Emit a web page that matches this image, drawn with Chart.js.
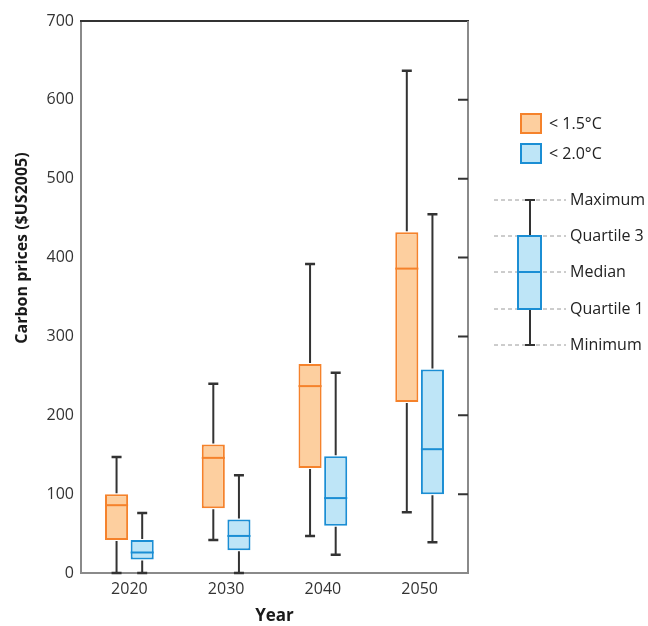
<!DOCTYPE html>
<html>
<head>
<meta charset="utf-8">
<script src="https://cdn.jsdelivr.net/npm/chart.js@4.4.1/dist/chart.umd.min.js"></script>
<style>
  html, body { margin: 0; padding: 0; background: #fff; }
  #wrap { width: 648px; height: 626px; }
</style>
</head>
<body>
<div id="wrap"><canvas id="chart"></canvas></div>
<script>
// years on the x axis
const years = ['2020', '2030', '2040', '2050'];

// < 1.5°C scenarios
const min15 = [0, 42, 47, 77];
const q1_15 = [42, 82, 133, 217];
const med15 = [86, 146, 237, 386];
const q3_15 = [100, 163, 265, 432];
const max15 = [147, 240, 392, 637];

// < 2.0°C scenarios
const min20 = [0, 0, 23, 39];
const q1_20 = [17, 29, 60, 100];
const med20 = [26, 47, 95, 157];
const q3_20 = [42, 68, 148, 258];
const max20 = [76, 124, 254, 455];

const yTicks = [0, 100, 200, 300, 400, 500, 600, 700];

const FONT = "'Open Sans', 'DejaVu Sans', sans-serif";
const ORANGE = '#f5822b', ORANGE_FILL = '#fdcf9f';
const BLUE = '#1b8ed4', BLUE_FILL = '#bee5f7';
const WHISKER = '#333333';

const stats = [
  { min: min15, med: med15, max: max15, color: ORANGE },
  { min: min20, med: med20, max: max20, color: BLUE }
];

// whiskers, caps and medians, placed with the chart scales
const boxPlugin = {
  id: 'boxParts',
  afterDatasetsDraw(chart) {
    const ctx = chart.ctx;
    const y = chart.scales.y;
    ctx.save();
    stats.forEach((s, i) => {
      const meta = chart.getDatasetMeta(i);
      const ds = chart.data.datasets[i];
      meta.data.forEach((bar, j) => {
        const x = bar.x;
        const w = bar.width;
        const [lo, hi] = ds.data[j];
        ctx.strokeStyle = WHISKER;
        ctx.lineWidth = 2;
        ctx.beginPath();
        ctx.moveTo(x, y.getPixelForValue(hi) - 1);
        ctx.lineTo(x, y.getPixelForValue(s.max[j]));
        ctx.moveTo(x, y.getPixelForValue(lo) + 1);
        ctx.lineTo(x, y.getPixelForValue(s.min[j]));
        ctx.stroke();
        // caps
        ctx.lineWidth = 2.5;
        ctx.beginPath();
        ctx.moveTo(x - 5, y.getPixelForValue(s.max[j]));
        ctx.lineTo(x + 5, y.getPixelForValue(s.max[j]));
        ctx.moveTo(x - 5, y.getPixelForValue(s.min[j]));
        ctx.lineTo(x + 5, y.getPixelForValue(s.min[j]));
        ctx.stroke();
        // median
        ctx.strokeStyle = s.color;
        ctx.lineWidth = 2;
        ctx.beginPath();
        ctx.moveTo(x - w / 2, y.getPixelForValue(s.med[j]));
        ctx.lineTo(x + w / 2, y.getPixelForValue(s.med[j]));
        ctx.stroke();
      });
    });
    ctx.restore();
  }
};

// frame, inner right ticks, y title, legend and the box key
const framePlugin = {
  id: 'frame',
  afterDraw(chart) {
    const ctx = chart.ctx;
    const a = chart.chartArea;
    const y = chart.scales.y;
    ctx.save();
    ctx.strokeStyle = '#333';
    ctx.lineWidth = 2;
    ctx.beginPath();
    ctx.moveTo(a.left - 1, a.top);
    ctx.lineTo(a.right + 1, a.top);
    ctx.stroke();
    ctx.strokeStyle = '#8a8a8a';
    ctx.beginPath();
    ctx.moveTo(a.right, a.top);
    ctx.lineTo(a.right, a.bottom);
    ctx.stroke();
    ctx.strokeStyle = '#333';
    ctx.beginPath();
    yTicks.slice(1, -1).forEach(v => {
      const py = y.getPixelForValue(v);
      ctx.moveTo(a.right - 10, py);
      ctx.lineTo(a.right, py);
    });
    ctx.stroke();

    // y axis title
    ctx.fillStyle = '#1a1a1a';
    ctx.font = 'bold 16px ' + FONT;
    ctx.textAlign = 'center';
    ctx.textBaseline = 'middle';
    ctx.translate(22, 248);
    ctx.rotate(-Math.PI / 2);
    ctx.fillText('Carbon prices ($US2005)', 0, 0);
    ctx.setTransform(1, 0, 0, 1, 0, 0);

    // legend
    const legend = [
      { label: '< 1.5°C', stroke: ORANGE, fill: ORANGE_FILL, y: 114 },
      { label: '< 2.0°C', stroke: BLUE, fill: BLUE_FILL, y: 144 }
    ];
    ctx.font = '16px ' + FONT;
    ctx.textAlign = 'left';
    legend.forEach(l => {
      ctx.fillStyle = l.fill;
      ctx.fillRect(521, l.y, 20, 19);
      ctx.strokeStyle = l.stroke;
      ctx.lineWidth = 2;
      ctx.strokeRect(521, l.y, 20, 19);
      ctx.fillStyle = '#222';
      ctx.fillText(l.label, 549, l.y + 10);
    });

    // box key
    const keyY = [200, 236, 272, 309, 345];
    const keyLabels = ['Maximum', 'Quartile 3', 'Median', 'Quartile 1', 'Minimum'];
    ctx.strokeStyle = '#9a9a9a';
    ctx.lineWidth = 1;
    ctx.setLineDash([4, 3]);
    ctx.beginPath();
    keyY.forEach(ky => {
      ctx.moveTo(494, ky);
      ctx.lineTo(566, ky);
    });
    ctx.stroke();
    ctx.setLineDash([]);
    ctx.strokeStyle = WHISKER;
    ctx.lineWidth = 2;
    ctx.beginPath();
    ctx.moveTo(530, keyY[0]); ctx.lineTo(530, keyY[1]);
    ctx.moveTo(530, keyY[3]); ctx.lineTo(530, keyY[4]);
    ctx.moveTo(525, keyY[0]); ctx.lineTo(535, keyY[0]);
    ctx.moveTo(525, keyY[4]); ctx.lineTo(535, keyY[4]);
    ctx.stroke();
    ctx.fillStyle = BLUE_FILL;
    ctx.fillRect(518, keyY[1], 23, keyY[3] - keyY[1]);
    ctx.strokeStyle = BLUE;
    ctx.strokeRect(518, keyY[1], 23, keyY[3] - keyY[1]);
    ctx.beginPath();
    ctx.moveTo(518, keyY[2]); ctx.lineTo(541, keyY[2]);
    ctx.stroke();
    ctx.fillStyle = '#222';
    keyLabels.forEach((t, k) => ctx.fillText(t, 570, keyY[k]));
    ctx.restore();
  }
};

new Chart(document.getElementById('chart'), {
  type: 'bar',
  data: {
    labels: years,
    datasets: [
      {
        label: '< 1.5°C',
        data: q1_15.map((v, i) => [v, q3_15[i]]),
        backgroundColor: ORANGE_FILL,
        borderColor: ORANGE,
        borderWidth: 2,
        borderSkipped: false
      },
      {
        label: '< 2.0°C',
        data: q1_20.map((v, i) => [v, q3_20[i]]),
        backgroundColor: BLUE_FILL,
        borderColor: BLUE,
        borderWidth: 2,
        borderSkipped: false
      }
    ]
  },
  options: {
    responsive: true,
    maintainAspectRatio: false,
    animation: false,
    barPercentage: 0.9,
    categoryPercentage: 0.53,
    layout: { padding: { top: 21, right: 180, bottom: 0, left: 0 } },
    plugins: {
      legend: { display: false },
      tooltip: { enabled: false }
    },
    scales: {
      x: {
        afterFit(scale) { scale.height = 53; },
        grid: { display: false, drawTicks: false },
        border: { display: true, color: '#8a8a8a', width: 2 },
        ticks: { color: '#333', font: { family: FONT, size: 16 }, padding: 7 },
        title: {
          display: true,
          text: 'Year',
          color: '#1a1a1a',
          font: { family: FONT, size: 17, weight: 'bold' },
          padding: { top: 0, bottom: 0 }
        }
      },
      y: {
        min: 0,
        max: 700,
        afterFit(scale) { scale.width = 81; },
        afterBuildTicks(scale) { scale.ticks = yTicks.map(v => ({ value: v })); },
        grid: { display: false, drawTicks: false },
        border: { display: true, color: '#8a8a8a', width: 2 },
        ticks: { color: '#333', font: { family: FONT, size: 16 }, padding: 7 }
      }
    }
  },
  plugins: [boxPlugin, framePlugin]
});
</script>
</body>
</html>
